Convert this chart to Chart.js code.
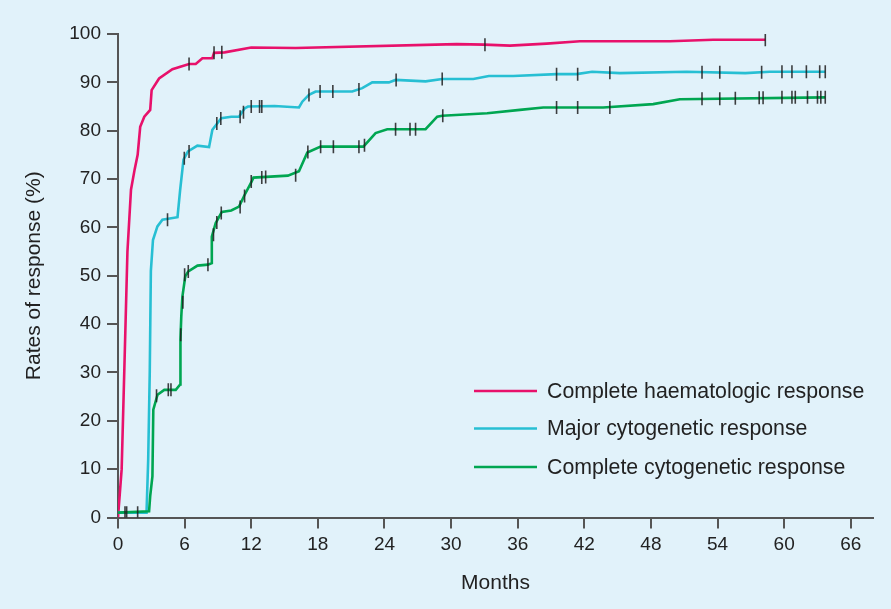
<!DOCTYPE html>
<html>
<head>
<meta charset="utf-8">
<script src="https://cdn.jsdelivr.net/npm/chart.js@4.4.0/dist/chart.umd.min.js"></script>
<style>
  body { margin: 0; background: #e1f2fa; }
  #wrap { width: 891px; height: 609px; position: relative; }
</style>
</head>
<body>
<div id="wrap"><canvas id="myChart"></canvas></div>
<script>
const seriesNames = [
  'Complete haematologic response',
  'Major cytogenetic response',
  'Complete cytogenetic response',
];
const xTicks = [0, 6, 12, 18, 24, 30, 36, 42, 48, 54, 60, 66];
const yTicks = [0, 10, 20, 30, 40, 50, 60, 70, 80, 90, 100];

// [months, %]
const chrCurve = [
  [0, 0], [0.33, 10], [0.57, 30.6], [0.85, 55], [1.17, 67.8], [1.5, 72], [1.77, 75],
  [2.0, 80.8], [2.37, 82.9], [2.9, 84.3], [3.03, 88.4], [3.7, 90.8], [4.9, 92.7],
  [6.4, 93.8], [7.0, 93.8], [7.6, 95], [8.5, 95], [8.65, 96.1], [9.6, 96.2],
  [12.0, 97.2], [16, 97.1], [30.5, 97.9], [33, 97.8], [35.3, 97.6], [38.6, 98.0],
  [41.6, 98.5], [49.7, 98.5], [53.6, 98.8], [58.3, 98.8],
];
const chrCensored = [[6.4, 93.8], [8.65, 96.1], [9.35, 96.2], [33.05, 97.8], [58.3, 98.8]];

const mcrCurve = [
  [0, 1], [2.57, 1], [2.72, 12], [2.86, 30], [2.96, 51], [3.15, 57.4], [3.55, 60.2],
  [4.0, 61.6], [5.36, 62.1], [5.6, 67.8], [5.9, 74], [6.3, 75.7], [7.15, 76.9],
  [8.2, 76.6], [8.5, 80.2], [9.3, 82.6], [10.2, 82.9], [10.9, 82.9], [11.4, 84.6],
  [11.7, 85], [14.1, 85.1], [16.3, 84.8], [16.6, 86], [17.2, 87.4], [17.8, 88.1],
  [21.1, 88.1], [22.0, 88.8], [22.9, 90], [24.4, 90], [25.0, 90.5], [27.7, 90.2],
  [29.2, 90.7], [32.0, 90.7], [33.4, 91.3], [35.6, 91.3], [39.5, 91.7], [41.3, 91.7],
  [42.7, 92.2], [45.2, 91.9], [51.2, 92.2], [56.5, 91.9], [58.7, 92.2], [63.7, 92.2],
];
const mcrCensored = [
  [4.46, 61.6], [5.97, 74.3], [6.4, 75.7], [8.9, 81.5], [9.26, 82.5], [11.0, 82.9],
  [11.3, 83.8], [12.0, 85], [12.75, 85], [12.95, 85], [17.2, 87.4], [18.2, 88.1],
  [19.35, 88.1], [21.7, 88.5], [25.05, 90.5], [29.2, 90.7], [39.5, 91.7], [41.4, 91.7],
  [44.3, 92.0], [52.6, 92.1], [54.2, 92.1], [57.97, 92.1], [59.8, 92.2], [60.7, 92.2],
  [62.0, 92.2], [63.2, 92.2], [63.7, 92.2],
];

const ccrCurve = [
  [0, 1], [2.8, 1.3], [2.9, 4.4], [3.1, 8.5], [3.18, 22.3], [3.56, 25.4], [4.17, 26.4],
  [5.2, 26.4], [5.6, 27.5], [5.6, 30.6], [5.65, 36.8], [5.7, 41.6], [5.8, 45.7],
  [6.06, 49.9], [6.33, 50.9], [7.16, 52.1], [8.1, 52.3], [8.45, 52.6], [8.45, 58.1],
  [8.8, 60.9], [9.35, 63.2], [10.2, 63.5], [10.9, 64.3], [11.4, 66.7], [12.0, 69.3],
  [12.2, 70.3], [15.3, 70.7], [16.3, 71.6], [17.05, 75.5], [18.25, 76.7], [22.1, 76.7],
  [23.2, 79.5], [24.25, 80.3], [27.7, 80.3], [28.75, 82.9], [29.2, 83.1], [33.25, 83.6],
  [36.2, 84.3], [38.3, 84.8], [43.7, 84.8], [48.2, 85.5], [50.6, 86.5], [63.7, 86.9],
];
const ccrCensored = [
  [0.63, 1], [0.78, 1], [1.77, 1], [3.47, 25.2], [4.53, 26.4], [4.77, 26.4],
  [5.65, 37.8], [5.84, 44.5], [6.0, 50.2], [6.33, 50.9], [8.1, 52.3], [8.6, 58.5],
  [8.9, 61], [9.3, 63], [11.0, 64.2], [11.4, 66.5], [12.0, 69.5], [12.95, 70.3],
  [13.3, 70.4], [16.0, 70.8], [17.1, 75.6], [18.25, 76.7], [19.4, 76.7], [21.7, 76.7],
  [22.2, 77.0], [25.0, 80.3], [26.3, 80.3], [26.8, 80.3], [29.25, 83.1], [39.5, 84.8],
  [41.4, 84.8], [44.3, 84.8], [52.6, 86.6], [54.2, 86.6], [55.6, 86.7], [57.75, 86.8],
  [58.1, 86.8], [59.8, 86.9], [60.7, 86.9], [61.0, 86.9], [62.1, 86.9], [63.0, 86.9],
  [63.3, 86.9], [63.7, 86.9],
];

const colors = ['#e8116b', '#27bfd3', '#00a651'];
const toXY = (arr) => arr.map((p) => ({ x: p[0], y: p[1] }));

function curve(label, data, color, order) {
  return {
    label: label,
    data: toXY(data),
    borderColor: color,
    backgroundColor: color,
    borderWidth: 2.6,
    pointRadius: 0,
    tension: 0,
    order: order,
  };
}

function censor(data) {
  return {
    label: '',
    data: toXY(data),
    showLine: false,
    pointStyle: 'line',
    rotation: 90,
    pointRadius: 6.5,
    pointBorderColor: 'rgba(30,30,30,0.85)',
    pointBorderWidth: 1.6,
    order: 0,
  };
}

// legend drawn inside the plot, bottom right
const insideLegend = {
  id: 'insideLegend',
  afterDraw(chart) {
    const c = chart.ctx;
    const ys = [391, 428.5, 467];
    c.save();
    c.font = '21.3px "Liberation Sans", Arial, sans-serif';
    c.textBaseline = 'middle';
    c.textAlign = 'left';
    seriesNames.forEach((name, i) => {
      c.strokeStyle = colors[i];
      c.lineWidth = 2.6;
      c.beginPath();
      c.moveTo(474, ys[i]);
      c.lineTo(537, ys[i]);
      c.stroke();
      c.fillStyle = '#222';
      c.fillText(name, 547, ys[i] + 1);
    });
    c.restore();
  },
};

const ctx = document.getElementById('myChart').getContext('2d');
const myChart = new Chart(ctx, {
  type: 'line',
  data: {
    datasets: [
      curve(seriesNames[0], chrCurve, colors[0], 3),
      curve(seriesNames[1], mcrCurve, colors[1], 2),
      curve(seriesNames[2], ccrCurve, colors[2], 1),
      censor(chrCensored),
      censor(mcrCensored),
      censor(ccrCensored),
    ],
  },
  options: {
    responsive: true,
    maintainAspectRatio: false,
    animation: false,
    layout: {
      padding: { top: 34, right: 18, bottom: 0, left: 0 },
    },
    plugins: {
      legend: { display: false },
      tooltip: { enabled: false },
    },
    scales: {
      x: {
        type: 'linear',
        min: 0,
        max: 68,
        afterBuildTicks: (scale) => {
          scale.ticks = xTicks.map((v) => ({ value: v }));
        },
        afterFit: (scale) => {
          scale.height = 91.5;
        },
        grid: {
          display: true,
          drawOnChartArea: false,
          drawTicks: true,
          tickLength: 11,
          color: '#555',
          lineWidth: 2,
        },
        border: { display: true, color: '#555', width: 2 },
        ticks: {
          color: '#222',
          padding: 5,
          maxRotation: 0,
          font: { family: '"Liberation Sans", Arial, sans-serif', size: 19 },
        },
        title: {
          display: true,
          text: 'Months',
          color: '#222',
          padding: { top: 0, bottom: 13 },
          font: { family: '"Liberation Sans", Arial, sans-serif', size: 21 },
        },
      },
      y: {
        type: 'linear',
        min: 0,
        max: 100,
        afterBuildTicks: (scale) => {
          scale.ticks = yTicks.map((v) => ({ value: v }));
        },
        afterFit: (scale) => {
          scale.width = 118;
        },
        grid: {
          display: true,
          drawOnChartArea: false,
          drawTicks: true,
          tickLength: 11,
          color: '#555',
          lineWidth: 2,
        },
        border: { display: true, color: '#555', width: 2 },
        ticks: {
          color: '#222',
          padding: 6,
          font: { family: '"Liberation Sans", Arial, sans-serif', size: 19 },
        },
        title: {
          display: true,
          text: 'Rates of response (%)',
          color: '#222',
          padding: { top: 22, bottom: 0 },
          font: { family: '"Liberation Sans", Arial, sans-serif', size: 21 },
        },
      },
    },
  },
  plugins: [insideLegend],
});
</script>
</body>
</html>
